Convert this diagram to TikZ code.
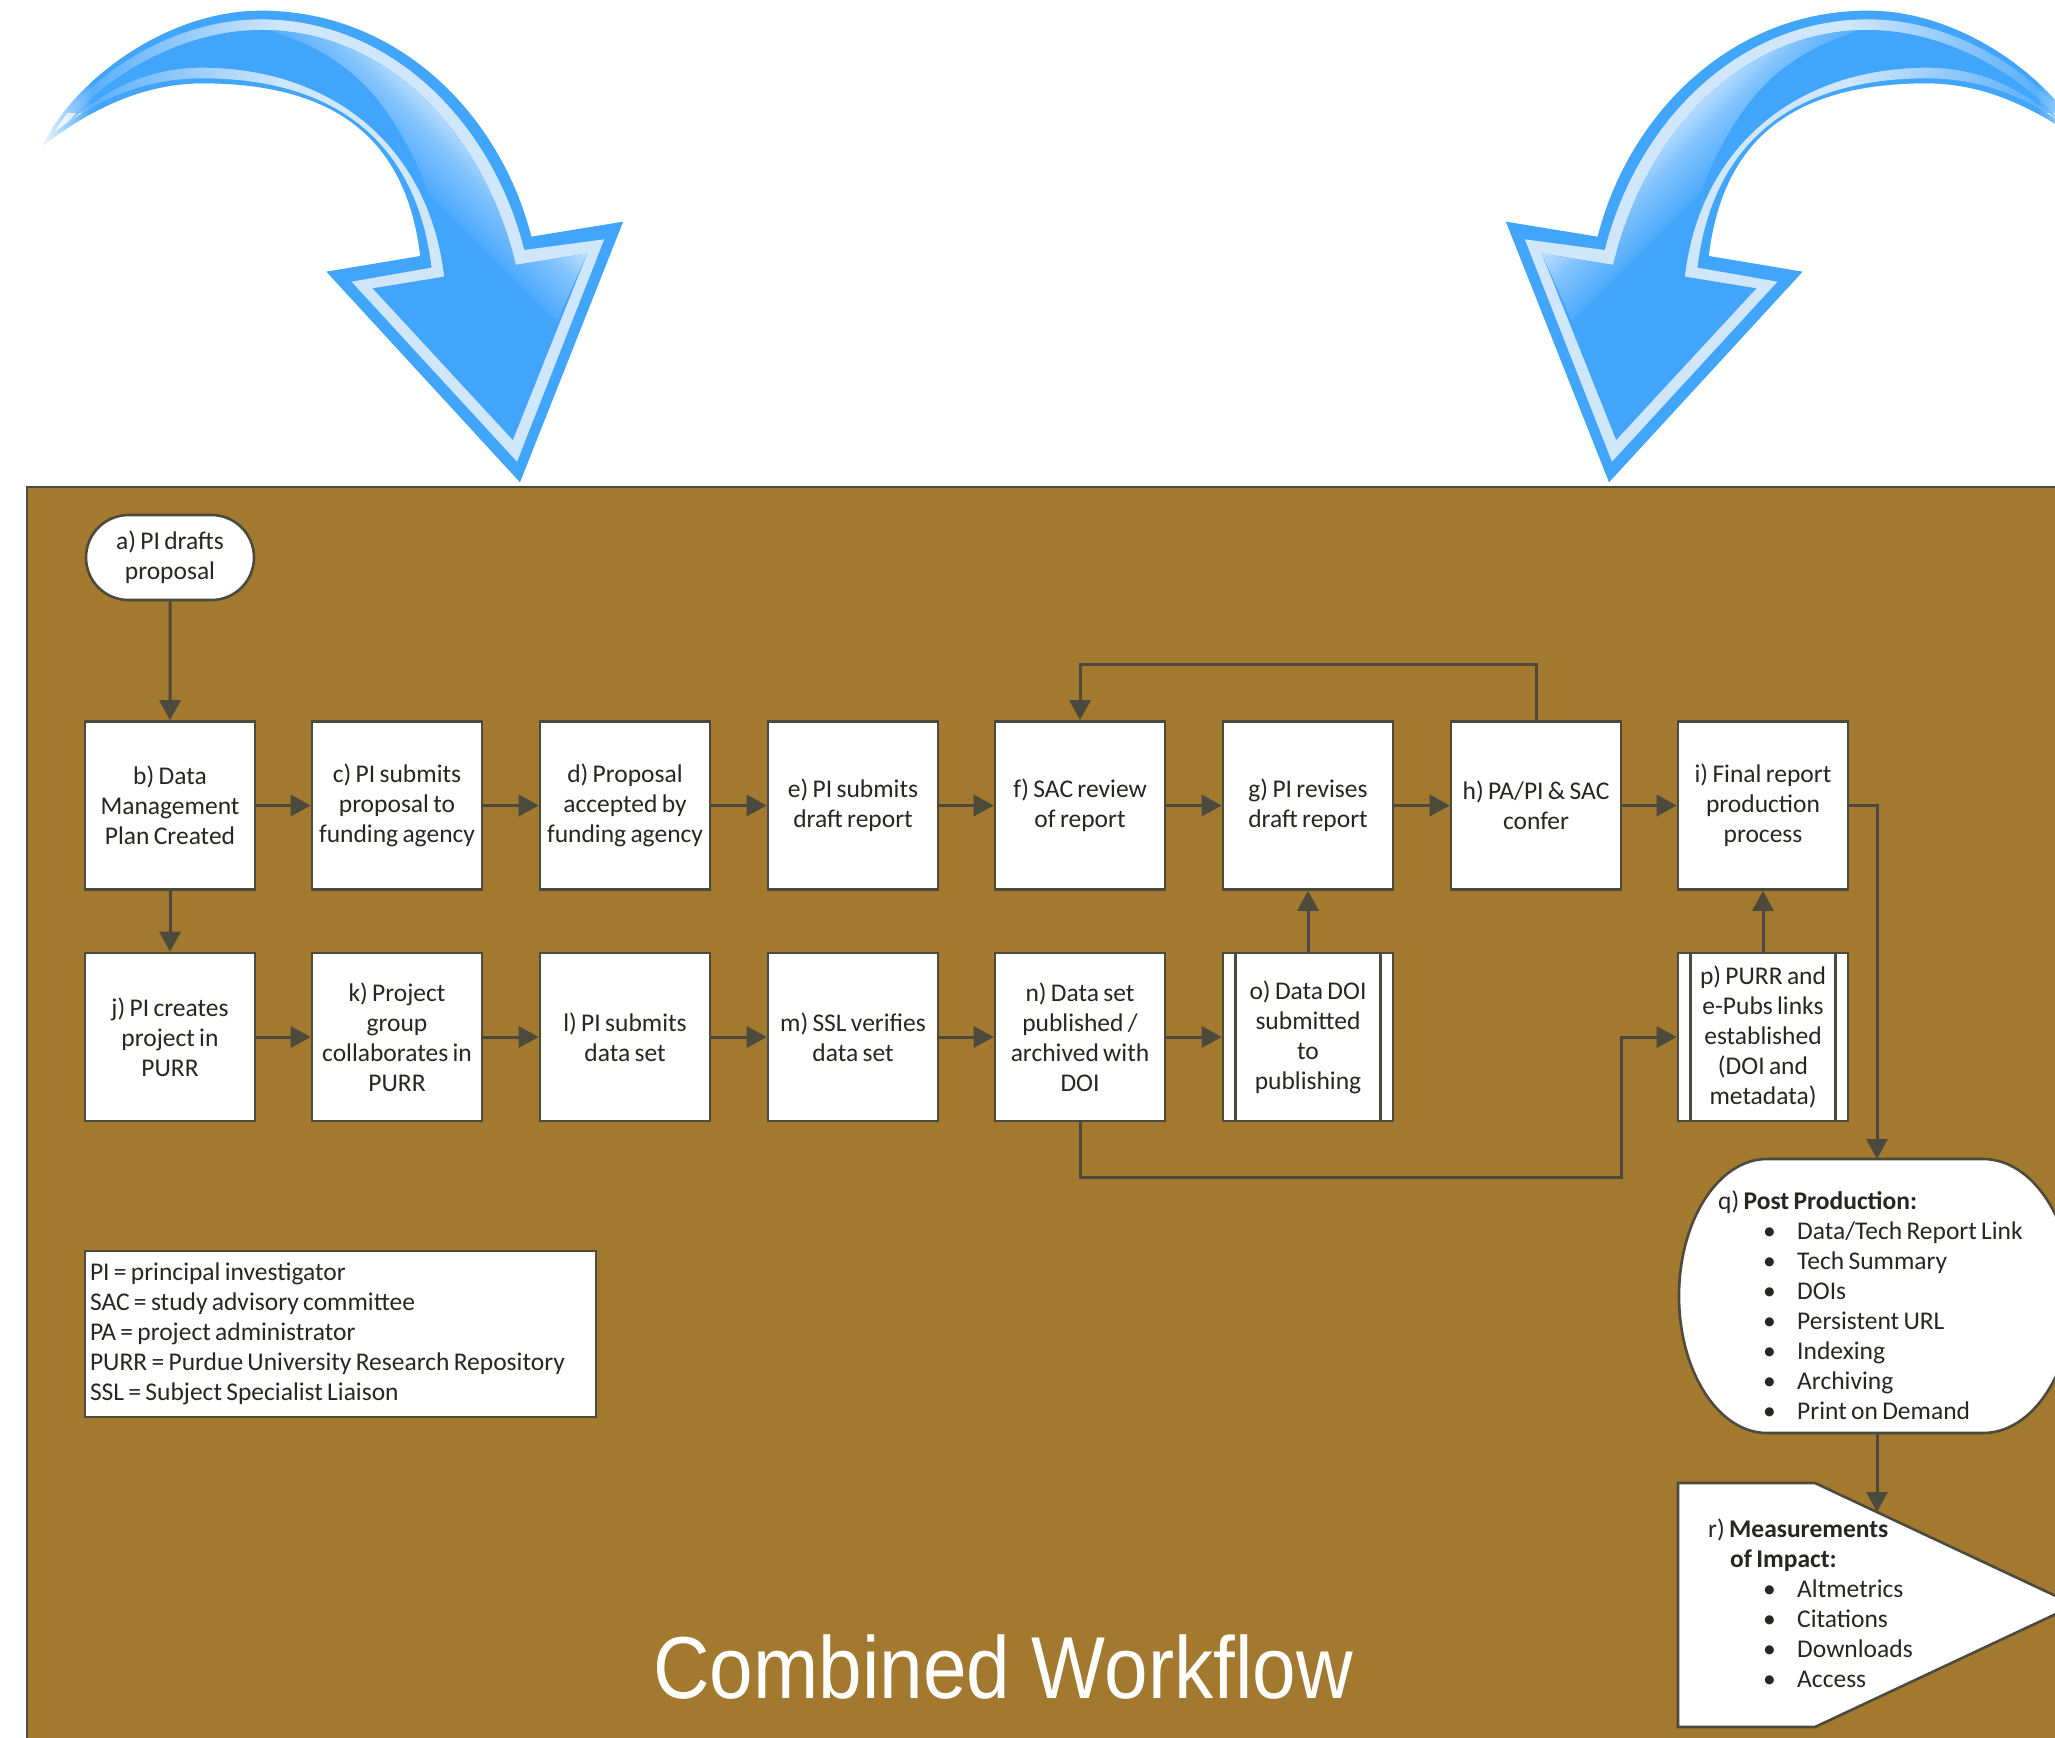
\documentclass[tikz,border=0pt]{standalone}
\usepackage{fontspec}
\setmainfont[WordSpace=0.75]{Carlito}
\newfontfamily\titlefont{Liberation Sans}
\usetikzlibrary{arrows.meta,shapes.misc,fadings}
\definecolor{brownbg}{HTML}{A2792E}
\definecolor{edgec}{HTML}{4C4A3C}
\definecolor{txt}{HTML}{262622}
\definecolor{bluecore}{HTML}{42A5FC}
\definecolor{blueband}{HTML}{CFE6FB}
\definecolor{bluegloss}{HTML}{C8E4FE}
\pgfdeclarehorizontalshading{glossh}{100bp}{color(0bp)=(bluecore); color(48.5bp)=(bluecore); color(49bp)=(bluecore!92!white); color(53.5bp)=(bluegloss!45!bluecore); color(58bp)=(bluegloss); color(100bp)=(bluegloss)}
\tikzfading[name=fadeL, left color=transparent!0, right color=transparent!100]
\tikzset{
  box/.style={draw=edgec,fill=white,line width=2.6pt,minimum width=170pt,minimum height=168pt,inner sep=1pt,align=center,text=txt,font=\fontsize{25.5}{30}\selectfont},
  term/.style={box,rounded rectangle,minimum height=85pt},
  legendbox/.style={box,align=flush left,minimum width=511pt,minimum height=166pt,text width=501pt,inner sep=5pt},
  listtext/.style={anchor=north west,inner sep=0pt,align=flush left,text=txt,font=\fontsize{25.5}{30}\selectfont},
  flow/.style={draw=edgec,line width=3pt,-{Triangle[length=20pt,width=21pt]}},
  plainline/.style={draw=edgec,line width=2.6pt},
  bigtitle/.style={text=white,inner sep=0pt,xscale=0.89,transform shape,font=\titlefont\fontsize{88}{90}\selectfont},
}
\newcommand{\outerpath}{(100,440) .. controls (170,250) and (390,32) .. (620,32) .. controls (950,32) and (1190,350) .. (1262,710) -- (1480,665) -- (1235,1447) -- (775,815) -- (998,768) .. controls (965,420) and (800,250) .. (480,250) .. controls (330,250) and (200,340) .. (100,440) -- cycle}
\newcommand{\bluecurve}[2]{%
  \fill[bluecore] \outerpath;
  \fill[blueband] (130,395) .. controls (200,240) and (400,58) .. (620,58) .. controls (930,58) and (1170,370) .. (1245,750) -- (1435,718) -- (1228,1385) -- (835,845) -- (1025,803) .. controls (990,430) and (800,235) .. (480,235) .. controls (330,235) and (220,310) .. (130,395) -- cycle;
  \fill[bluecore] (160,370) .. controls (250,230) and (430,90) .. (620,90) .. controls (920,90) and (1150,400) .. (1225,795) -- (1395,760) -- (1218,1320) -- (885,865) -- (1055,830) .. controls (1020,450) and (800,205) .. (480,203) .. controls (340,203) and (240,280) .. (160,370) -- cycle;
  \begin{scope}
    \clip (640,92) .. controls (850,170) and (930,330) .. (1000,520) .. controls (1060,720) and (1130,880) .. (1310,1000) -- (1395,760) -- (1225,795) .. controls (1150,400) and (920,90) .. (620,90) -- cycle;
    \shade[shading=glossh,shading angle=#1] (595,0) rectangle (1545,1200);
  \end{scope}
  \begin{scope}
    \clip \outerpath;
    \fill[bluecore,path fading=fadeL,fading angle=#2] (120,0) rectangle (660,340);
  \end{scope}
  \fill[white,path fading=fadeL,fading angle=#2] (90,250) rectangle (220,460);
}
\begin{document}
\begin{tikzpicture}[x=1pt,y=-1pt]
\useasboundingbox (0,0) rectangle (2055,1737);
\begin{scope}
\clip (0,0) rectangle (2055,1737);
\fill[white] (0,0) rectangle (2055,1737);
\begin{scope}[x=0.42105pt,y=-0.33333pt]
  \bluecurve{45}{0}
\end{scope}
\begin{scope}[shift={(2129pt,0pt)},x=-0.42105pt,y=-0.33333pt]
  \bluecurve{135}{180}
\end{scope}
\draw[draw=edgec,fill=brownbg,line width=2.6pt] (27,487) rectangle (2100,1800);

% terminator q and off-page shape r
\draw[draw=edgec,fill=white,line width=2.6pt] (1767,1159) -- (1983,1159) .. controls (2032.7,1159) and (2073,1220.4) .. (2073,1296) .. controls (2073,1371.6) and (2032.7,1433) .. (1983,1433) -- (1767,1433) .. controls (1718.4,1433) and (1679,1371.6) .. (1679,1296) .. controls (1679,1220.4) and (1718.4,1159) .. (1767,1159) -- cycle;
\draw[draw=edgec,fill=white,line width=2.6pt] (1678,1483) -- (1815,1483) -- (2075,1605) -- (1815,1727) -- (1678,1727) -- cycle;
\end{scope}

\node[term] (a) at (170,557.5) {a) PI drafts\\proposal};
\node[box] (b) at (170,805.5) {b) Data\\Management\\Plan Created};
\node[box] (c) at (397,805.5) {c) PI submits\\proposal to\\funding agency};
\node[box] (d) at (625,805.5) {d) Proposal\\accepted by\\funding agency};
\node[box] (e) at (853,805.5) {e) PI submits\\draft report};
\node[box] (f) at (1080,805.5) {f) SAC review\\of report};
\node[box] (g) at (1308,805.5) {g) PI revises\\draft report};
\node[box] (h) at (1536,805.5) {h) PA/PI \& SAC\\confer};
\node[box] (i) at (1763,805.5) {i) Final report\\production\\process};
\node[box] (j) at (170,1037) {j) PI creates\\project in\\PURR};
\node[box] (k) at (397,1037) {k) Project\\group\\collaborates in\\PURR};
\node[box] (l) at (625,1037) {l) PI submits\\data set};
\node[box] (m) at (853,1037) {m) SSL verifies\\data set};
\node[box] (n) at (1080,1037) {n) Data set\\published /\\archived with\\DOI};
\node[box] (o) at (1308,1037) {o) Data DOI\\submitted\\to\\publishing};
\node[box] (p) at (1763,1037) {p) PURR and\\e-Pubs links\\established\\(DOI and\\metadata)};
\draw[plainline] ([xshift=14pt]o.north west) -- ([xshift=14pt]o.south west);
\draw[plainline] ([xshift=-14pt]o.north east) -- ([xshift=-14pt]o.south east);
\draw[plainline] ([xshift=14pt]p.north west) -- ([xshift=14pt]p.south west);
\draw[plainline] ([xshift=-14pt]p.north east) -- ([xshift=-14pt]p.south east);

\node[legendbox] (legend) at (340.5,1334) {PI = principal investigator\\SAC = study advisory committee\\PA = project administrator\\PURR = Purdue University Research Repository\\SSL = Subject Specialist Liaison};

\node[listtext] (qtext) at (1718,1191) {q) \textbf{Post Production:}\\
\hspace*{45pt}\makebox[34pt][l]{\textbullet}Data/Tech Report Link\\
\hspace*{45pt}\makebox[34pt][l]{\textbullet}Tech Summary\\
\hspace*{45pt}\makebox[34pt][l]{\textbullet}DOIs\\
\hspace*{45pt}\makebox[34pt][l]{\textbullet}Persistent URL\\
\hspace*{45pt}\makebox[34pt][l]{\textbullet}Indexing\\
\hspace*{45pt}\makebox[34pt][l]{\textbullet}Archiving\\
\hspace*{45pt}\makebox[34pt][l]{\textbullet}Print on Demand};
\node[listtext] (rtext) at (1708,1519) {r) \textbf{Measurements}\\
\hspace*{22pt}\textbf{of Impact:}\\
\hspace*{55pt}\makebox[34pt][l]{\textbullet}Altmetrics\\
\hspace*{55pt}\makebox[34pt][l]{\textbullet}Citations\\
\hspace*{55pt}\makebox[34pt][l]{\textbullet}Downloads\\
\hspace*{55pt}\makebox[34pt][l]{\textbullet}Access};

\node[bigtitle] (title) at (1003,1667) {Combined Workflow};

\coordinate (qtop) at (1877,1159);
\coordinate (qbot) at (1877,1433);
\coordinate (rtop) at (1877,1512);
\coordinate (fb) at (1536,664);
\coordinate (np1) at (1080,1177);
\coordinate (np2) at (1621,1037);

\draw[flow] (a) -- (b);
\draw[flow] (b) -- (c);
\draw[flow] (c) -- (d);
\draw[flow] (d) -- (e);
\draw[flow] (e) -- (f);
\draw[flow] (f) -- (g);
\draw[flow] (g) -- (h);
\draw[flow] (h) -- (i);
\draw[flow] (b) -- (j);
\draw[flow] (j) -- (k);
\draw[flow] (k) -- (l);
\draw[flow] (l) -- (m);
\draw[flow] (m) -- (n);
\draw[flow] (n) -- (o);
\draw[flow] (o) -- (g);
\draw[flow] (p) -- (i);
\draw[flow] (h.north) -- (fb) -| (f.north);
\draw[flow] (n.south) -- (np1) -| (np2) -- (p.west);
\draw[flow] (i.east) -| (qtop);
\draw[flow] (qbot) -- (rtop);
\end{tikzpicture}
\end{document}
